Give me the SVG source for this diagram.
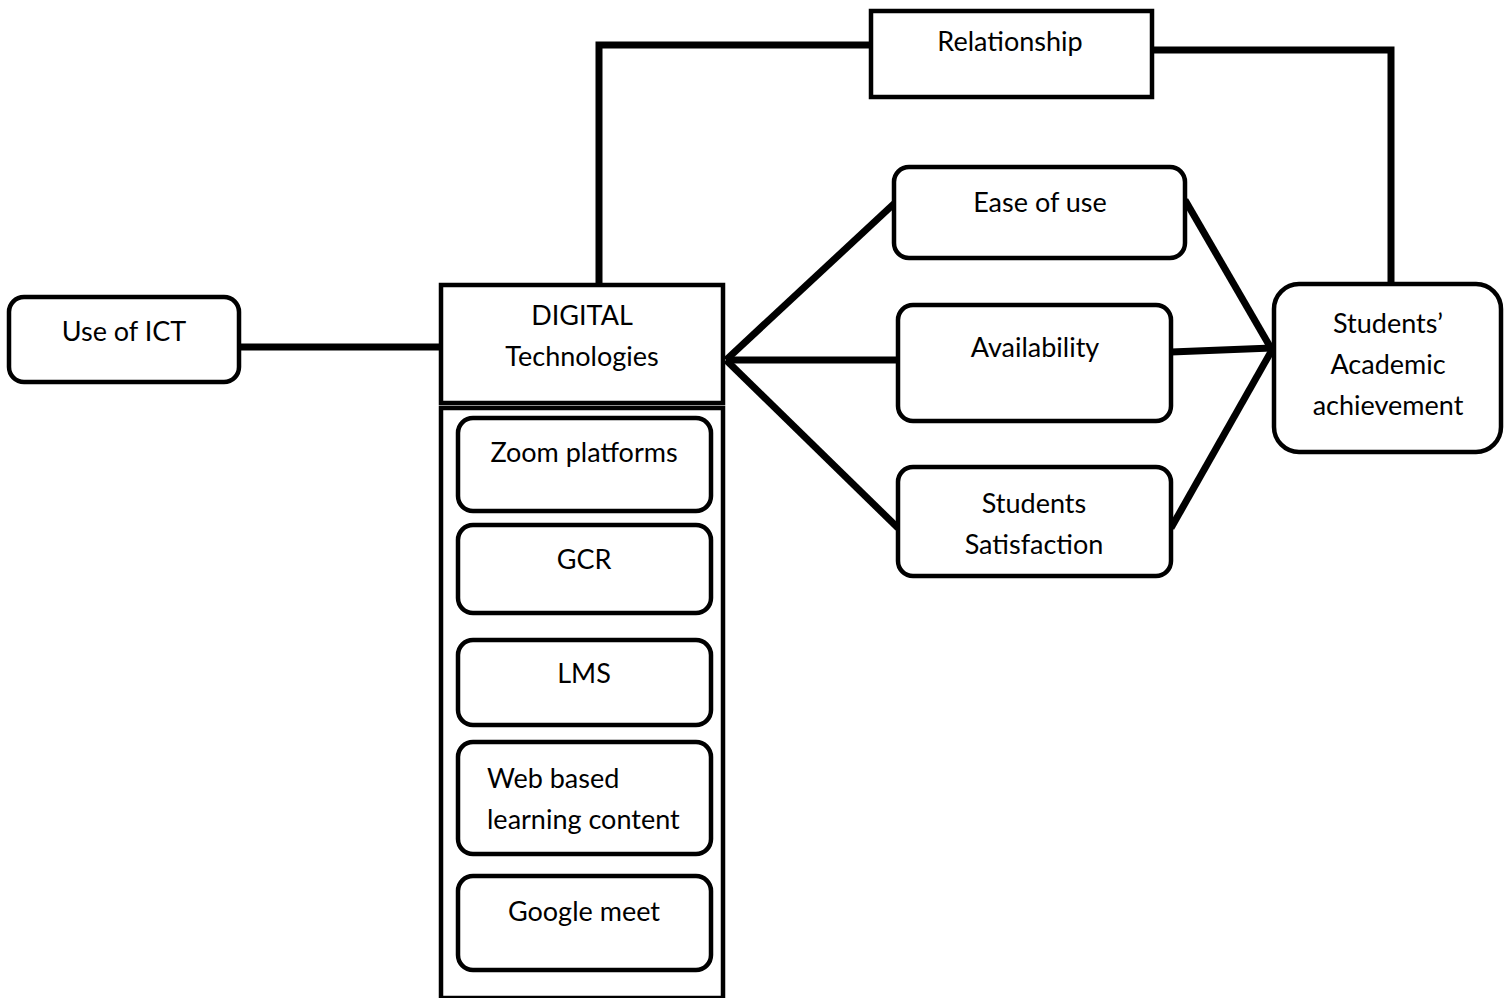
<svg xmlns="http://www.w3.org/2000/svg" width="1510" height="998" viewBox="0 0 1510 998">
<style>
.box{fill:#fff;stroke:#000;stroke-width:4.5}
.con{fill:none;stroke:#000;stroke-width:7;stroke-linejoin:miter}
text{font-family:Lato,"Liberation Sans",sans-serif;font-size:27px;fill:#000}
.c{text-anchor:middle}
</style>
<rect width="1510" height="998" fill="#fff"/>
<g id="connectors">
<line class="con" x1="239" y1="347" x2="441" y2="347"/>
<polyline class="con" points="599,284 599,45 871,45"/>
<polyline class="con" points="1151,50 1391,50 1391,284"/>
<line class="con" x1="726" y1="360" x2="898" y2="200"/>
<line class="con" x1="726" y1="360" x2="898" y2="360"/>
<line class="con" x1="726" y1="360" x2="898" y2="528"/>
<line class="con" x1="1185" y1="200" x2="1272" y2="350"/>
<line class="con" x1="1171" y1="352" x2="1272" y2="348"/>
<line class="con" x1="1171" y1="528" x2="1272" y2="350"/>
</g>
<g id="use-of-ict">
<rect class="box" x="9" y="297" width="230" height="85" rx="15"/>
<text class="c" x="124" y="341">Use of ICT</text>
</g>
<g id="digital">
<rect class="box" x="441" y="285" width="282" height="118"/>
<rect class="box" x="441" y="408" width="282" height="590"/>
<text class="c" x="582" y="325">DIGITAL</text>
<text class="c" x="582" y="366">Technologies</text>
</g>
<g id="zoom">
<rect class="box" x="458" y="418" width="253" height="93" rx="15"/>
<text class="c" x="584" y="462">Zoom platforms</text>
</g>
<g id="gcr">
<rect class="box" x="458" y="525" width="253" height="88" rx="15"/>
<text class="c" x="584" y="569">GCR</text>
</g>
<g id="lms">
<rect class="box" x="458" y="640" width="253" height="85" rx="15"/>
<text class="c" x="584" y="683">LMS</text>
</g>
<g id="web">
<rect class="box" x="458" y="742" width="253" height="112" rx="15"/>
<text x="487" y="788">Web based</text>
<text x="487" y="829">learning content</text>
</g>
<g id="meet">
<rect class="box" x="458" y="876" width="253" height="94" rx="15"/>
<text class="c" x="584" y="921">Google meet</text>
</g>
<g id="relationship">
<rect class="box" x="871" y="11" width="281" height="86"/>
<text class="c" x="1010" y="51">Relationship</text>
</g>
<g id="ease">
<rect class="box" x="894" y="167" width="291" height="91" rx="15"/>
<text class="c" x="1040" y="212">Ease of use</text>
</g>
<g id="availability">
<rect class="box" x="898" y="305" width="273" height="116" rx="15"/>
<text class="c" x="1035" y="357">Availability</text>
</g>
<g id="satisfaction">
<rect class="box" x="898" y="467" width="273" height="109" rx="15"/>
<text class="c" x="1034" y="513">Students</text>
<text class="c" x="1034" y="554">Satisfaction</text>
</g>
<g id="achievement">
<rect class="box" x="1274" y="284" width="227" height="168" rx="25"/>
<text class="c" x="1388" y="333">Students’</text>
<text class="c" x="1388" y="374">Academic</text>
<text class="c" x="1388" y="415">achievement</text>
</g>
</svg>
